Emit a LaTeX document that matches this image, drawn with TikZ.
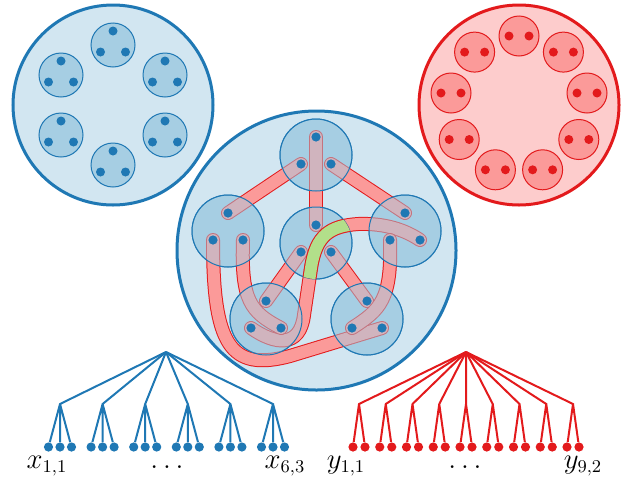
\documentclass[tikz,border=0pt]{standalone}
\usetikzlibrary{calc}
\definecolor{pblue}{HTML}{1F78B4}
\definecolor{plblue}{HTML}{A6CEE3}
\definecolor{pred}{HTML}{E31A1C}
\definecolor{ppink}{HTML}{FB9A99}
\definecolor{pgreen}{HTML}{B2DF8A}
\tikzset{
  outerb/.style={fill=plblue!50, draw=pblue, line width=1.5pt},
  outerr/.style={fill=ppink!50, draw=pred, line width=1.5pt},
  smallb/.style={fill=plblue, draw=pblue, line width=0.5pt},
  smallr/.style={fill=ppink, draw=pred, line width=0.5pt},
  hub/.style={fill=plblue, fill opacity=0.5, draw=pblue, line width=0.5pt},
  tubeedge/.style={draw=pred, line width=7pt, line cap=round, line join=round},
  tubecore/.style={line width=6pt, line cap=round, line join=round},
  edgeb/.style={draw=pblue, line width=1pt},
  edger/.style={draw=pred, line width=1pt},
  leafb/.style={circle, fill=pblue, inner sep=0pt, minimum size=4.6pt},
  leafr/.style={circle, fill=pred, inner sep=0pt, minimum size=4.6pt},
  lbl/.style={anchor=base, font=\fontsize{13.5}{16}\selectfont}
}
\def\bluetri(#1,#2){\draw[smallb] (#1,#2) circle (22);
  \fill[pblue] (#1,#2-14) circle (4.5) (#1-12.5,#2+7) circle (4.5) (#1+12.5,#2+7) circle (4.5);}
\def\redpair(#1,#2){\draw[smallr] (#1,#2) circle (20);
  \fill[pred] (#1-10,#2) circle (4.5) (#1+10,#2) circle (4.5);}
\def\hubat(#1)(#2,#3){\coordinate (#1) at (#2,#3);
  \coordinate (#1-t) at (#2,#3-18); \coordinate (#1-l) at (#2-15,#3+9); \coordinate (#1-r) at (#2+15,#3+9);
  \draw[smallb] (#1) circle (36);}
\def\hubdots(#1){\fill[pblue] (#1-t) circle (4.6) (#1-l) circle (4.6) (#1-r) circle (4.6);}
\def\tube#1#2{\draw[tubeedge] #2; \draw[tubecore, #1] #2;}
\def\xgroup(#1)(#2){\coordinate (#1) at (#2,404);
  \node[leafb] (#1-1) at (#2-11.5,447) {};
  \node[leafb] (#1-2) at (#2,447) {};
  \node[leafb] (#1-3) at (#2+11.5,447) {};
  \draw[edgeb] (xroot) -- (#1) -- (#1-2) (#1) -- (#1-1) (#1) -- (#1-3);}
\def\ygroup(#1)(#2){\coordinate (#1) at (#2,404);
  \node[leafr] (#1-1) at (#2-6,447) {};
  \node[leafr] (#1-2) at (#2+6,447) {};
  \draw[edger] (yroot) -- (#1) -- (#1-1) (#1) -- (#1-2);}

\begin{document}
\begin{tikzpicture}[x=0.5pt, y=-0.5pt]
			%%%%% START %%%%%
			\useasboundingbox (0,0) rectangle (630,477);
			
			% left circle
			\draw[outerb] (113,105) circle (100);
			\bluetri(113,45) \bluetri(165,75) \bluetri(165,135)
			\bluetri(113,165) \bluetri(61,135) \bluetri(61,75)
			
			% right circle
			\draw[outerr] (519,105) circle (100);
			\redpair(519,36) \redpair(563.4,52.1) \redpair(587,93)
			\redpair(578.8,139.5) \redpair(542.6,169.8) \redpair(495.4,169.8)
			\redpair(459.2,139.5) \redpair(451,93) \redpair(474.6,52.1)
			
			% middle circle
			\draw[outerb] (316.5,250.5) circle (139.5);
			\hubat(T)(316,155) \hubat(C)(316,243) \hubat(L)(228,231)
			\hubat(R)(405,231) \hubat(BL)(266,319) \hubat(BR)(367,319)
			
			\tube{ppink}{(T-l) -- (L-t)}
			\tube{ppink}{(T-r) -- (R-t)}
			\tube{ppink}{(T-t) -- (C-t)}
			\tube{ppink}{(C-l) -- (BL-t)}
			\tube{ppink}{(C-r) -- (BR-t)}
			\tube{ppink}{(L-l) .. controls (213,345) and (230,372) .. (290,356) -- (BR-r)}
			\tube{ppink}{(BL-l) .. controls (275,345) and (300,348) .. (304,315) -- (311,268) .. controls (316,235) and (330,226) .. (358,224) .. controls (385,223) and (405,230) .. (R-r)}
			\tube{ppink}{(L-r) .. controls (241,300) and (250,312) .. (BL-r)}
			\tube{ppink}{(R-l) .. controls (392,300) and (380,310) .. (BR-l)}
			
			\draw[hub] (T) circle (36); \draw[hub] (C) circle (36); \draw[hub] (L) circle (36);
			\draw[hub] (R) circle (36); \draw[hub] (BL) circle (36); \draw[hub] (BR) circle (36);
			
			\begin{scope}
				\clip (C) circle (36);
				\tube{pgreen}{(BL-l) .. controls (275,345) and (300,348) .. (304,315) -- (311,268) .. controls (316,235) and (330,226) .. (358,224) .. controls (385,223) and (405,230) .. (R-r)}
			\end{scope}
			
			\hubdots(T) \hubdots(C) \hubdots(L) \hubdots(R) \hubdots(BL) \hubdots(BR)
			
			% left tree
			\coordinate (xroot) at (166,352);
			\xgroup(x1)(60) \xgroup(x2)(102.6) \xgroup(x3)(145.2)
			\xgroup(x4)(187.8) \xgroup(x5)(230.4) \xgroup(x6)(273)
			\node[lbl] (xfirst) at (47,468) {$x_{1,1}$};
			\node[lbl] (xdots) at (167,468) {$\dots$};
			\node[lbl] (xlast) at (285,468) {$x_{6,3}$};
			
			% right tree
			\coordinate (yroot) at (466,352);
			\ygroup(y1)(359) \ygroup(y2)(385.75) \ygroup(y3)(412.5)
			\ygroup(y4)(439.25) \ygroup(y5)(466) \ygroup(y6)(492.75)
			\ygroup(y7)(519.5) \ygroup(y8)(546.25) \ygroup(y9)(573)
			\node[lbl] (yfirst) at (346,468) {$y_{1,1}$};
			\node[lbl] (ydots) at (465,468) {$\dots$};
			\node[lbl] (ylast) at (583,468) {$y_{9,2}$};
			
			%%%%% END %%%%%
\end{tikzpicture}
\end{document}
